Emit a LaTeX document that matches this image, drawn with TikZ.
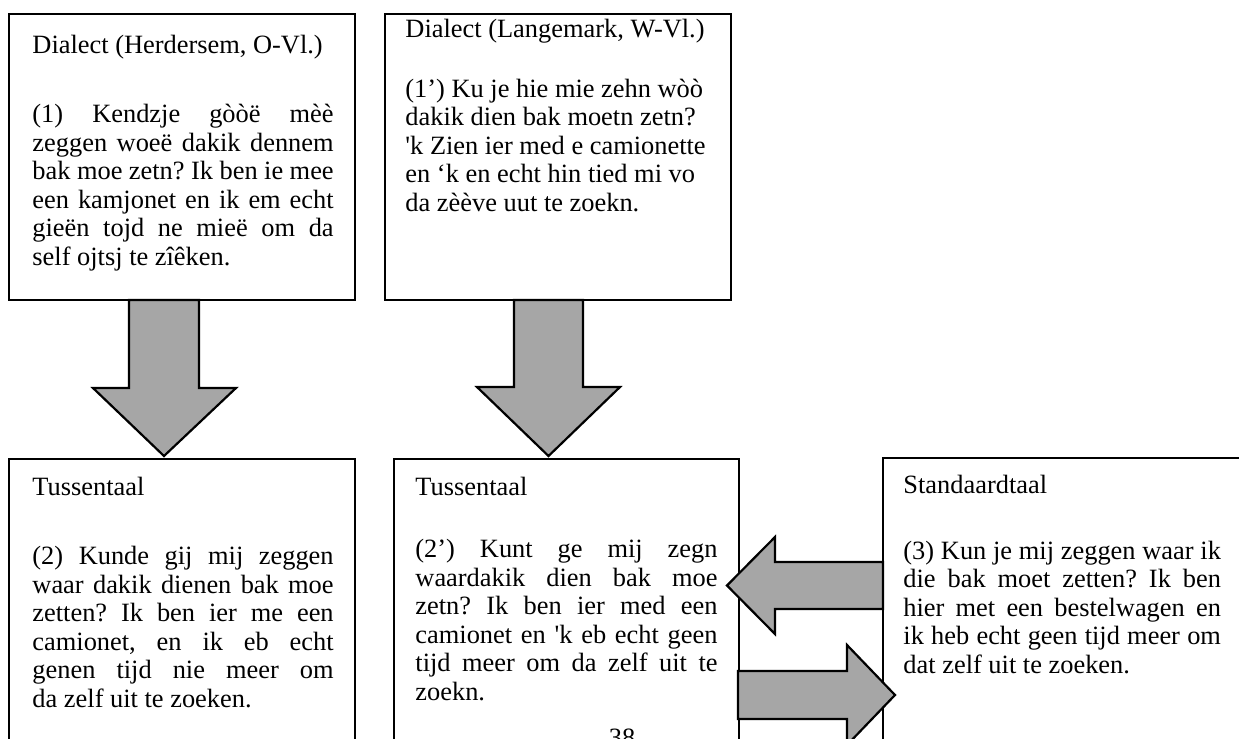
\documentclass[tikz,border=0pt]{standalone}
\usepackage{fontspec}
\setmainfont{Liberation Serif}[Ligatures=TeXOff]
\usetikzlibrary{fit}
\definecolor{arrowgray}{HTML}{A6A6A6}
\newcommand\J[2][136.9pt]{\makebox[#1][s]{#2}}
\frenchspacing
\begin{document}
\begin{tikzpicture}[x=0.4545pt,y=-0.4545pt,
  box/.style={draw, line width=1.2pt, inner sep=0pt},
  txt/.style={anchor=base west, inner sep=0pt, align=left,
              font=\fontsize{12}{12.95}\selectfont},
  bigarrow/.style={draw, line width=1pt, fill=arrowgray, line join=miter}]
\useasboundingbox (0,0) rectangle (1239,738);
\clip (0,0) rectangle (1239,738);
\fill[white] (0,0) rectangle (1239,738);

% boxes
\node[box, fit={(9,14) (355,300)}] (b1) {};
\node[box, fit={(385,14) (731,300)}] (b2) {};
\node[box, fit={(9,459) (355,820)}] (b3) {};
\node[box, fit={(394,459) (739,820)}] (b4) {};
\node[box, fit={(883,458) (1300,820)}] (b5) {};

% texts (multi-line nodes are placed by the baseline of their last line)
\node[txt] (h1) at (32,53) {Dialect (Herdersem, O-Vl.)};
\node[txt] (t1) at (32,265) {\J{(1) Kendzje gòòë mèè}\\
\J{zeggen woeë dakik dennem}\\
\J{bak moe zetn? Ik ben ie mee}\\
\J{een kamjonet en ik em echt}\\
\J{gieën tojd ne mieë om da}\\
self ojtsj te zîêken.};

\node[txt] (h2) at (405,37) {Dialect (Langemark, W-Vl.)};
\node[txt] (t2) at (405,211) {(1’) Ku je hie mie zehn wòò\\
dakik dien bak moetn zetn?\\
'k Zien ier med e camionette\\
en ‘k en echt hin tied mi vo\\
da zèève uut te zoekn.};

\node[txt] (h3) at (32,495) {Tussentaal};
\node[txt] (t3) at (32,707) {\J{(2) Kunde gij mij zeggen}\\
\J{waar dakik dienen bak moe}\\
\J{zetten? Ik ben ier me een}\\
\J{camionet, en ik eb echt}\\
\J{genen tijd nie meer om}\\
da zelf uit te zoeken.};

\node[txt] (h4) at (415,495) {Tussentaal};
\node[txt] (t4) at (415,700) {\J[137.3pt]{(2’) Kunt ge mij zegn}\\
\J[137.3pt]{waardakik dien bak moe}\\
\J[137.3pt]{zetn? Ik ben ier med een}\\
\J[137.3pt]{camionet en 'k eb echt geen}\\
\J[137.3pt]{tijd meer om da zelf uit te}\\
zoekn.};

\node[txt] (h5) at (903,493) {Standaardtaal};
\node[txt] (t5) at (903,673) {\J[144.3pt]{(3) Kun je mij zeggen waar ik}\\
\J[144.3pt]{die bak moet zetten? Ik ben}\\
\J[144.3pt]{hier met een bestelwagen en}\\
\J[144.3pt]{ik heb echt geen tijd meer om}\\
dat zelf uit te zoeken.};

\node[anchor=base, inner sep=0pt, font=\fontsize{12}{12.95}\selectfont] (pg) at (622,746) {38};

% arrows
\draw[bigarrow] (129,300) -- (199,300) -- (199,388) -- (236,388) -- (164,456)
   -- (93,388) -- (129,388) -- cycle;
\draw[bigarrow] (514,300) -- (583,300) -- (583,387) -- (620,387) -- (548.5,456)
   -- (477,387) -- (514,387) -- cycle;
\draw[bigarrow] (883,562) -- (775,562) -- (775,537) -- (727,585.5) -- (775,634)
   -- (775,609) -- (883,609) -- cycle;
\draw[bigarrow] (738,671) -- (847,671) -- (847,645) -- (895,695) -- (847,745)
   -- (847,719) -- (738,719) -- cycle;
\end{tikzpicture}
\end{document}
